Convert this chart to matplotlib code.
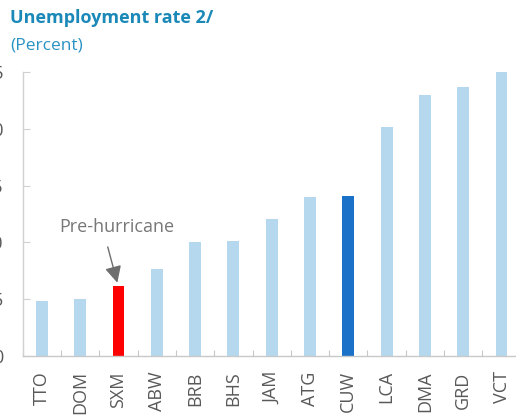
import numpy as np
import matplotlib
matplotlib.use("Agg")
import matplotlib.pyplot as plt

plt.rcParams['font.family'] = ['Open Sans', 'DejaVu Sans']

# data
countries = ["TTO", "DOM", "SXM", "ABW", "BRB", "BHS", "JAM",
             "ATG", "CUW", "LCA", "DMA", "GRD", "VCT"]
unemployment = [4.8, 5.0, 6.2, 7.7, 10.0, 10.1, 12.1,
                14.0, 14.1, 20.2, 23.0, 23.7, 25.0]
yticks = [0, 5, 10, 15, 20, 25]

light = "#b5d8ef"
colors = [light] * len(countries)
colors[countries.index("SXM")] = "#ff0000"
colors[countries.index("CUW")] = "#1a71c7"

W, H = 516, 415
fig = plt.figure(figsize=(W / 100, H / 100), dpi=100)
ax = fig.add_axes([22.7 / W, 59 / H, 498 / W, 284 / H])

x = np.arange(len(countries))
ax.bar(x, unemployment, width=0.31, color=colors, edgecolor="none")

ax.set_xlim(-0.5, len(countries) - 0.5)
ax.set_ylim(0, 25)
ax.set_yticks(yticks)
ax.set_yticklabels([str(v) for v in yticks])
ax.set_xticks(x)
ax.set_xticklabels(countries, rotation=90)
ax.set_xticks(np.arange(-0.5, len(countries), 1), minor=True)

gray = "#595959"
ax.tick_params(axis="y", direction="in", length=5, width=0.8, color="#d0d0d0",
               labelsize=13, labelcolor=gray, pad=14)
ax.tick_params(axis="x", which="major", length=0, labelsize=13,
               labelcolor=gray, pad=11)
ax.tick_params(axis="x", which="minor", direction="in", length=4.5,
               width=0.8, color="#c8c8c8")

for s in ["top", "right"]:
    ax.spines[s].set_visible(False)
ax.spines["left"].set_color("#d0d0d0")
ax.spines["bottom"].set_color("#c8c8c8")
ax.spines["left"].set_linewidth(1.0)
ax.spines["bottom"].set_linewidth(1.0)

# annotation
sxm = countries.index("SXM")
ax.text(sxm - 0.05, 10.55, "Pre-hurricane", ha="center", va="bottom",
        fontsize=13, color="#777777")
ax.annotate("", xy=(sxm - 0.03, unemployment[sxm] + 0.25),
            xytext=(sxm - 0.28, 9.6),
            arrowprops=dict(arrowstyle="-|>,head_length=1.0,head_width=0.5",
                            color="#6e6e6e", lw=1.0, shrinkA=0, shrinkB=0))

# titles
fig.text(10 / W, 1 - 9 / H, "Unemployment rate 2/", fontsize=13,
         fontweight="bold", color="#1a89b8", va="top", ha="left")
fig.text(10 / W, 1 - 37 / H, "(Percent)", fontsize=12.5,
         color="#2a93c4", va="top", ha="left")
# clipped line of text above the panel title
fig.text(22 / W, 1 + 2.5 / H, "Unemployment is high across the region, especially in the ECCU",
         fontsize=13, style="italic", color="#222222", va="bottom", ha="left")

fig.savefig("out.png", dpi=100)
